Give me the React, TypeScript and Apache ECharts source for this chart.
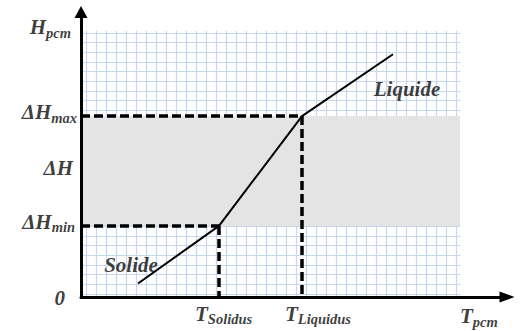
import React, { useEffect, useRef } from 'react';
import * as echarts from 'echarts';

// ---- data (in graph-paper cell units) ----
const curveT = [5.2, 13.3, 21.6, 30.7];
const curveH = [1.1, 7.05, 18.4, 24.8];
const tSolidus = 13.3;
const tLiquidus = 21.6;
const dHMin = 7.05;
const dHMax = 18.4;
const dHMid = 12.9;
const tMin = -0.5;
const tMax = 37.4;
const hMin = -0.3;
const hMax = 27.2;

const yLabelTexts = ['0', 'ΔH_min', 'ΔH', 'ΔH_max', 'H_pcm'];
const yLabelValues = [hMin, dHMin, dHMid, dHMax, hMax];
const xLabelTexts = ['T_Solidus', 'T_Liquidus', 'T_pcm'];
const xLabelValues = [tSolidus, tLiquidus, tMax];
const phaseTexts = ['Solide', 'Liquide'];
const phaseT = [4.5, 32.1];
const phaseH = [3.0, 21.2];

// ---- styles ----
const FONT = 'Liberation Serif';
const richStyles = {
  m: { fontFamily: FONT, fontWeight: 'bold' as const, fontStyle: 'italic' as const, fontSize: 21, lineHeight: 22, color: '#0a0a0a' },
  s: { fontFamily: FONT, fontWeight: 'bold' as const, fontStyle: 'italic' as const, fontSize: 14.5, lineHeight: 14, padding: [11, 0, 0, 0], color: '#0a0a0a' },
};
const yLabelOffsets: number[][] = [[-16, 1], [-6, -4], [-8, -1], [-4, -3.7], [-10, -4]];
const xLabelOffsets: number[][] = [[-24, 16.5], [-17, 16.5], [0, 19]];

function fmt(t: string) {
  const i = t.indexOf('_');
  if (i < 0) return `{m|${t}}`;
  return `{m|${t.slice(0, i)}}{s|${t.slice(i + 1)}}`;
}

const hidden = {
  axisLine: { show: false },
  axisTick: { show: false },
  axisLabel: { show: false },
  splitLine: { show: false },
};

export default function App() {
  const ref = useRef<HTMLDivElement>(null);
  useEffect(() => {
    if (!ref.current) return;
    const chart = echarts.init(ref.current, null, { renderer: 'svg' });

    const labelData: any[] = [];
    yLabelTexts.forEach((t, i) => {
      labelData.push({
        value: [tMin, yLabelValues[i]],
        label: { formatter: fmt(t), align: 'right', offset: yLabelOffsets[i] },
      });
    });
    xLabelTexts.forEach((t, i) => {
      labelData.push({
        value: [xLabelValues[i], hMin],
        label: { formatter: fmt(t), align: 'left', offset: xLabelOffsets[i] },
      });
    });
    phaseTexts.forEach((t, i) => {
      labelData.push({
        value: [phaseT[i], phaseH[i]],
        label: { formatter: fmt(t), align: 'center', offset: [0, 0] },
      });
    });

    const option: any = {
      animation: false,
      backgroundColor: '#fff',
      grid: [
        { left: 76, right: 60, top: 31, bottom: 34 },
        { left: 81, right: 60, top: 33, bottom: 37 },
        { left: 81, right: 60, top: 31, bottom: 34 },
        { left: 81, right: 13, top: 12, bottom: 34 },
      ],
      xAxis: [
        {
          gridIndex: 0, type: 'value', min: 0, max: 38.4, interval: 1,
          axisLine: { show: false }, axisTick: { show: false }, axisLabel: { show: false },
          splitLine: { show: true, showMinLine: false, showMaxLine: false, lineStyle: { color: '#c7d7ee', width: 1.2 } },
        },
        { gridIndex: 1, type: 'value', min: 0, max: 1, ...hidden },
        { gridIndex: 2, type: 'value', min: tMin, max: tMax, ...hidden },
        {
          gridIndex: 3, type: 'value', min: 0, max: 1, z: 10,
          axisLine: { show: true, lineStyle: { color: '#000', width: 3 }, symbol: ['none', 'triangle'], symbolSize: [11, 15] },
          axisTick: { show: false }, axisLabel: { show: false }, splitLine: { show: false },
        },
      ],
      yAxis: [
        { gridIndex: 0, type: 'value', min: 0, max: 1, ...hidden },
        {
          gridIndex: 1, type: 'value', min: 0, max: 27, interval: 1,
          axisLine: { show: false }, axisTick: { show: false }, axisLabel: { show: false },
          splitLine: { show: true, lineStyle: { color: '#c7d7ee', width: 1.2 } },
        },
        { gridIndex: 2, type: 'value', min: hMin, max: hMax, ...hidden },
        {
          gridIndex: 3, type: 'value', min: 0, max: 1, z: 10,
          axisLine: { show: true, lineStyle: { color: '#000', width: 3 }, symbol: ['none', 'triangle'], symbolSize: [13, 12] },
          axisTick: { show: false }, axisLabel: { show: false }, splitLine: { show: false },
        },
      ],
      series: [
        {
          type: 'line', xAxisIndex: 2, yAxisIndex: 2, data: [], z: 1, silent: true,
          markArea: {
            silent: true,
            itemStyle: { color: '#e4e4e4' },
            data: [[{ coord: [tMin, dHMin] }, { coord: [tMax, dHMax] }]],
          },
        },
        {
          type: 'line', xAxisIndex: 2, yAxisIndex: 2, data: [], z: 4, silent: true,
          markLine: {
            silent: true,
            symbol: ['none', 'none'],
            label: { show: false },
            lineStyle: { color: '#000', width: 3.5, type: [9, 4] },
            data: [
              [{ coord: [tMin, dHMax] }, { coord: [tLiquidus, dHMax] }],
              [{ coord: [tLiquidus, dHMax] }, { coord: [tLiquidus, hMin] }],
              [{ coord: [tMin, dHMin] }, { coord: [tSolidus, dHMin] }],
              [{ coord: [tSolidus, dHMin] }, { coord: [tSolidus, hMin] }],
            ],
          },
        },
        {
          type: 'line', xAxisIndex: 2, yAxisIndex: 2, z: 5, silent: true,
          data: curveT.map((t, i) => [t, curveH[i]]),
          symbol: 'none',
          lineStyle: { color: '#000', width: 2 },
        },
        {
          type: 'scatter', xAxisIndex: 2, yAxisIndex: 2, z: 6, silent: true, clip: false,
          symbolSize: 0,
          data: labelData,
          label: {
            show: true, position: 'inside', verticalAlign: 'middle',
            rich: richStyles,
          },
        },
      ],
    };
    chart.setOption(option);
    return () => chart.dispose();
  }, []);
  return <div ref={ref} style={{ width: 520, height: 331, position: 'absolute', left: 0, top: 0 }} />;
}
